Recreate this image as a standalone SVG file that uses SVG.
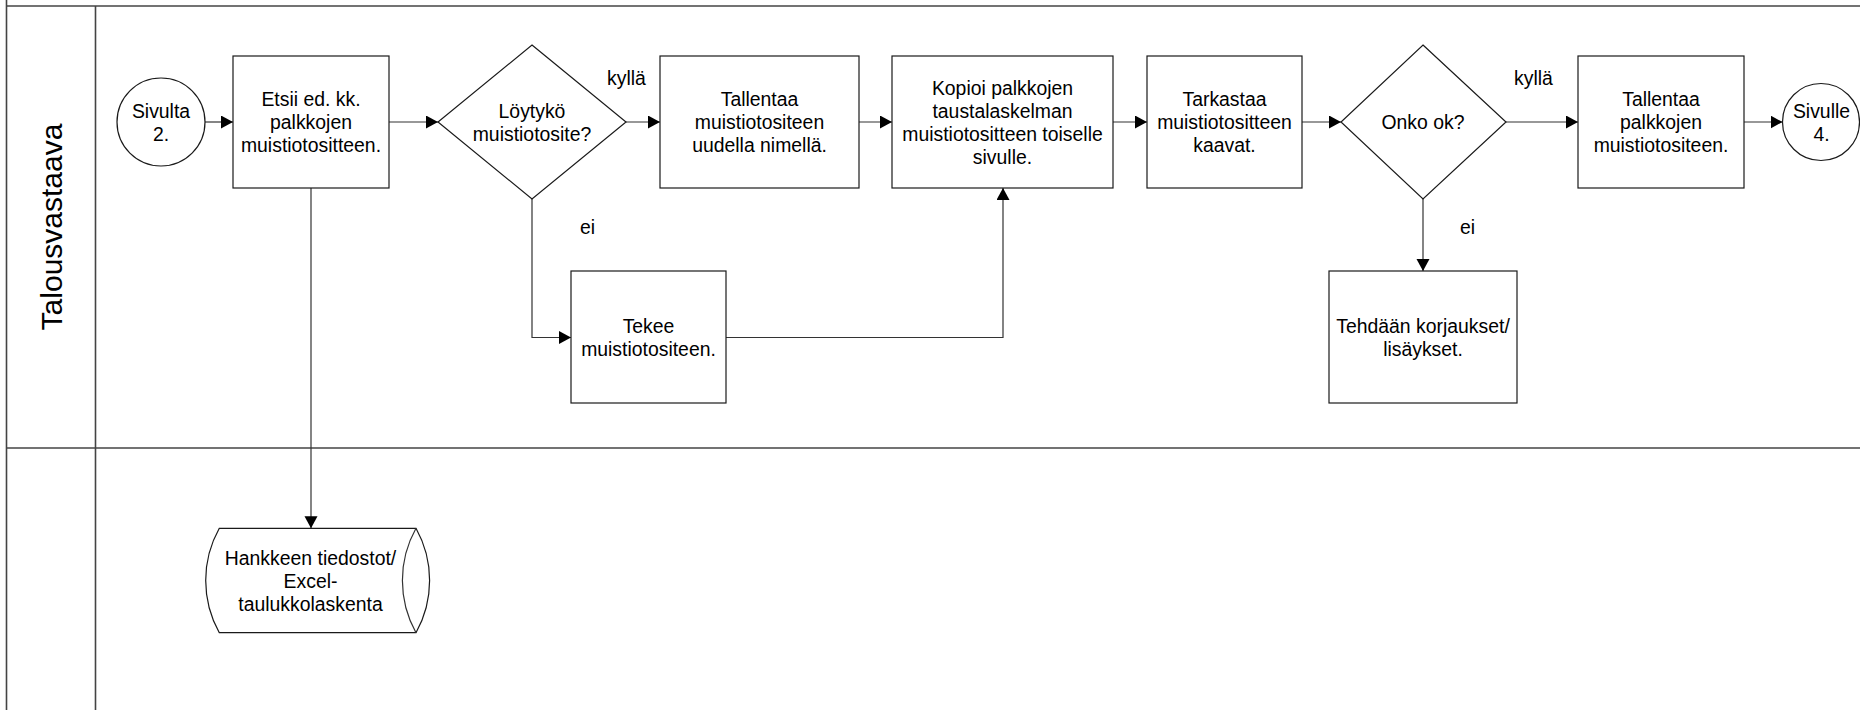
<svg xmlns="http://www.w3.org/2000/svg" width="1860" height="710" viewBox="0 0 1860 710">
<style>
.t{font-family:"Liberation Sans",Arial,sans-serif;font-size:19.4px;fill:#000;text-anchor:middle}
.l{font-family:"Liberation Sans",Arial,sans-serif;font-size:19.4px;fill:#000}
.s{fill:#fff;stroke:#1a1a1a;stroke-width:1.2}
.c{fill:none;stroke:#333;stroke-width:1.2}
.lane{fill:none;stroke:#444;stroke-width:1.6}
</style>
<defs>
<marker id="ah" markerUnits="userSpaceOnUse" markerWidth="13" markerHeight="14" refX="12" refY="6.5" orient="auto">
<path d="M0,0 L12,6.5 L0,13 Z" fill="#000"/>
</marker>
</defs>
<rect width="1860" height="710" fill="#fff"/>
<g id="lanes">
<line class="lane" x1="6" y1="6" x2="1860" y2="6"/>
<line class="lane" x1="6.5" y1="0" x2="6.5" y2="710" stroke="#000"/>
<line class="lane" x1="95.5" y1="6" x2="95.5" y2="710" stroke="#777"/>
<line class="lane" x1="6" y1="448" x2="1860" y2="448"/>
<text font-family="Liberation Sans, Arial, sans-serif" font-size="30" text-anchor="middle" transform="translate(62,227) rotate(-90)">Talousvastaava</text>
</g>
<g id="connectors">
<line class="c" x1="205" y1="122" x2="233" y2="122" marker-end="url(#ah)"/>
<line class="c" x1="389" y1="122" x2="438" y2="122" marker-end="url(#ah)"/>
<line class="c" x1="626" y1="122" x2="660" y2="122" marker-end="url(#ah)"/>
<line class="c" x1="859" y1="122" x2="892" y2="122" marker-end="url(#ah)"/>
<line class="c" x1="1113" y1="122" x2="1147" y2="122" marker-end="url(#ah)"/>
<line class="c" x1="1302" y1="122" x2="1341" y2="122" marker-end="url(#ah)"/>
<line class="c" x1="1506" y1="122" x2="1578" y2="122" marker-end="url(#ah)"/>
<line class="c" x1="1744" y1="122" x2="1782.5" y2="122" marker-end="url(#ah)"/>
<polyline class="c" points="532,199 532,337.5 571,337.5" marker-end="url(#ah)"/>
<polyline class="c" points="726,337.5 1003,337.5 1003,188" marker-end="url(#ah)"/>
<line class="c" x1="1423" y1="199" x2="1423" y2="271" marker-end="url(#ah)"/>
<line class="c" x1="311" y1="188" x2="311" y2="528.3" marker-end="url(#ah)"/>
<text class="l" x="607" y="85">kyllä</text>
<text class="l" x="580" y="234">ei</text>
<text class="l" x="1514" y="85">kyllä</text>
<text class="l" x="1460" y="234">ei</text>
</g>
<g id="start">
<circle class="s" cx="161" cy="122" r="44"/>
<text class="t" x="161" y="117.5">Sivulta</text>
<text class="t" x="161" y="140.5">2.</text>
</g>
<g id="etsii">
<rect class="s" x="233" y="56" width="156" height="132"/>
<text class="t" x="311" y="106">Etsii ed. kk.</text>
<text class="t" x="311" y="129">palkkojen</text>
<text class="t" x="311" y="152">muistiotositteen.</text>
</g>
<g id="loytyyko">
<polygon class="s" points="532,45 626,122 532,199 438,122"/>
<text class="t" x="532" y="117.5">Löytykö</text>
<text class="t" x="532" y="140.5">muistiotosite?</text>
</g>
<g id="tallentaa1">
<rect class="s" x="660" y="56" width="199" height="132"/>
<text class="t" x="759.5" y="106">Tallentaa</text>
<text class="t" x="759.5" y="129">muistiotositeen</text>
<text class="t" x="759.5" y="152">uudella nimellä.</text>
</g>
<g id="kopioi">
<rect class="s" x="892" y="56" width="221" height="132"/>
<text class="t" x="1002.5" y="94.5">Kopioi palkkojen</text>
<text class="t" x="1002.5" y="117.5">taustalaskelman</text>
<text class="t" x="1002.5" y="140.5">muistiotositteen toiselle</text>
<text class="t" x="1002.5" y="163.5">sivulle.</text>
</g>
<g id="tarkastaa">
<rect class="s" x="1147" y="56" width="155" height="132"/>
<text class="t" x="1224.5" y="106">Tarkastaa</text>
<text class="t" x="1224.5" y="129">muistiotositteen</text>
<text class="t" x="1224.5" y="152">kaavat.</text>
</g>
<g id="onkook">
<polygon class="s" points="1423,45 1506,122 1423,199 1341,122"/>
<text class="t" x="1423" y="129">Onko ok?</text>
</g>
<g id="tallentaa2">
<rect class="s" x="1578" y="56" width="166" height="132"/>
<text class="t" x="1661" y="106">Tallentaa</text>
<text class="t" x="1661" y="129">palkkojen</text>
<text class="t" x="1661" y="152">muistiotositeen.</text>
</g>
<g id="end">
<circle class="s" cx="1821" cy="122" r="38.5"/>
<text class="t" x="1821.5" y="117.5">Sivulle</text>
<text class="t" x="1821.5" y="140.5">4.</text>
</g>
<g id="tekee">
<rect class="s" x="571" y="271" width="155" height="132"/>
<text class="t" x="648.5" y="333">Tekee</text>
<text class="t" x="648.5" y="356">muistiotositeen.</text>
</g>
<g id="korjaukset">
<rect class="s" x="1329" y="271" width="188" height="132"/>
<text class="t" x="1423" y="333">Tehdään korjaukset/</text>
<text class="t" x="1423" y="356">lisäykset.</text>
</g>
<g id="tiedostot">
<path class="s" d="M219.3,528.3 L416,528.3 A107,107 0 0 1 416,632.7 L219.3,632.7 A107,107 0 0 1 219.3,528.3 Z"/>
<path class="c" stroke="#1a1a1a" d="M416,528.3 A107,107 0 0 0 416,632.7"/>
<text class="t" x="310.5" y="564.5">Hankkeen tiedostot/</text>
<text class="t" x="310.5" y="587.5">Excel-</text>
<text class="t" x="310.5" y="610.5">taulukkolaskenta</text>
</g>
</svg>
